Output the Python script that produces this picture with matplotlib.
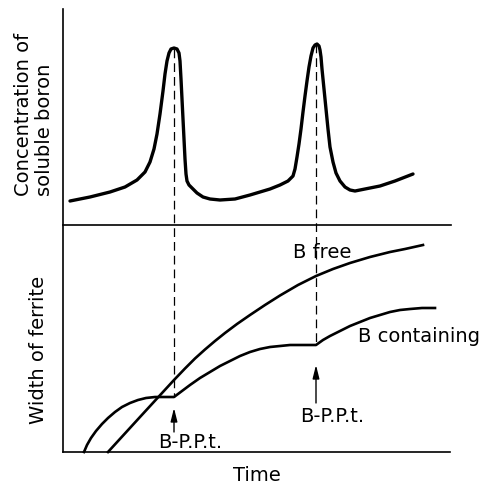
import matplotlib.pyplot as plt

# coordenadas (pixeles, y hacia abajo)
boro_x = [70, 90, 110, 125, 137, 145, 150, 154, 157, 160, 163, 165, 167, 169, 171, 174, 177, 179, 180, 181,
          182, 183, 184, 185, 186, 187, 189, 192, 197, 203, 210, 220, 235, 250, 270, 280, 288, 293, 295, 297,
          299, 301, 303, 305, 307, 309, 311, 313, 315, 317, 319, 320, 321, 322, 324, 326, 328, 330, 333, 336,
          340, 345, 350, 355, 365, 380, 395, 413]
boro_y = [202, 198, 193, 188, 181, 173, 163, 150, 135, 115, 92, 75, 62, 54, 50, 49, 50, 54, 62, 80,
          100, 120, 140, 160, 175, 182, 186, 189, 194, 198, 200, 201, 200, 196, 190, 186, 182, 177, 170, 158,
          145, 130, 113, 97, 82, 68, 57, 49, 46, 45, 47, 51, 58, 70, 90, 110, 130, 148, 163, 174,
          182, 188, 191, 192, 190, 187, 182, 175]

libre_x = [108, 140, 174, 185, 195, 205, 215, 225, 237, 250, 265, 280, 298, 316, 333, 350, 370, 390, 405, 423]
libre_y = [453, 418, 381, 369.5, 359.5, 350.5, 342, 334, 325, 316, 306, 296.5, 286, 277, 270, 264, 258, 253, 250, 246]

boro_cont_x = [84, 87, 91, 96, 102, 108, 115, 122, 130, 138, 146, 155, 174, 182, 190, 200, 210, 220, 230, 240,
               250, 260, 270, 280, 290, 316, 323, 330, 340, 350, 360, 370, 380, 390, 400, 410, 422, 435]
boro_cont_y = [453, 446, 439, 432, 425, 419, 413, 408, 404, 401, 399, 398, 398, 392, 386, 379, 373, 367, 362, 357,
               353, 350, 348, 347, 346, 346, 341, 337, 332, 327, 323, 319, 316, 313, 311, 310, 309, 309]

ppt_x = [174, 316]
ppt_y_top = [50, 45]
ppt_y_curva = [398, 346]

fig = plt.figure(figsize=(4.87, 4.85), dpi=100)
ax = fig.add_axes([0, 0, 1, 1])
ax.set_xlim(0, 487)
ax.set_ylim(485, 0)
ax.axis('off')

# ejes
ax.plot([63, 63], [10, 453], color='k', lw=1.2)
ax.plot([63, 451], [226, 226], color='k', lw=1.2)
ax.plot([63, 450], [453, 453], color='k', lw=1.2)

# curvas
ax.plot(boro_x, boro_y, color='k', lw=2.4, solid_capstyle='round', solid_joinstyle='round')
ax.plot(libre_x, libre_y, color='k', lw=1.9, solid_joinstyle='round')
ax.plot(boro_cont_x, boro_cont_y, color='k', lw=1.9, solid_joinstyle='round')

# lineas de trazos
for x, y0, y1 in zip(ppt_x, ppt_y_top, ppt_y_curva):
    ax.plot([x, x], [y0, y1], color='k', lw=0.9, dashes=(7, 4))

# flechas
flechas = [(174, 433, 409), (316, 404, 366)]
for x, ya, yb in flechas:
    ax.annotate('', xy=(x, yb), xytext=(x, ya),
                arrowprops=dict(arrowstyle='-|>,head_length=0.8,head_width=0.2',
                                lw=1.0, color='k', mutation_scale=10,
                                shrinkA=0, shrinkB=0))

fs = 14
ax.text(24, 196, 'Concentration of', rotation=90, ha='center', va='bottom', fontsize=fs)
ax.text(45, 196, 'soluble boron', rotation=90, ha='center', va='bottom', fontsize=fs)
ax.text(39, 424, 'Width of ferrite', rotation=90, ha='center', va='bottom', fontsize=fs)
ax.text(257, 481, 'Time', ha='center', va='baseline', fontsize=fs)
ax.text(293, 258, 'B free', ha='left', va='baseline', fontsize=fs)
ax.text(358, 342, 'B containing', ha='left', va='baseline', fontsize=fs)
ax.text(158, 448, 'B-P.P.t.', ha='left', va='baseline', fontsize=fs)
ax.text(300, 422, 'B-P.P.t.', ha='left', va='baseline', fontsize=fs)

fig.savefig('out.png', dpi=100, facecolor='white')
